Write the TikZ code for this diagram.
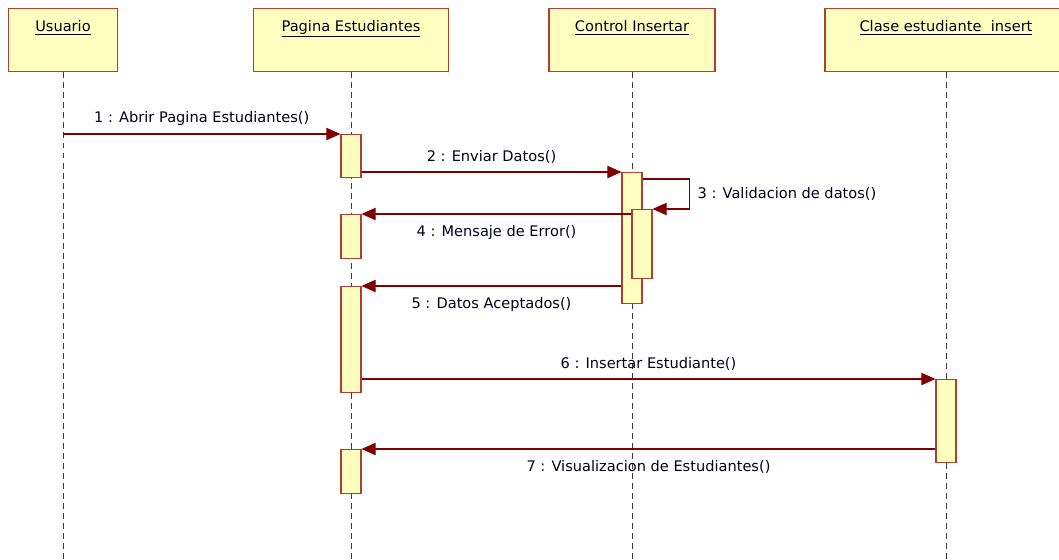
\documentclass[tikz,border=0pt]{standalone}
\usepackage{fontspec}
\setmainfont{DejaVu Sans}
\definecolor{boxyellow}{RGB}{255, 255, 192}
\definecolor{boxred}{RGB}{172, 64, 52}
\definecolor{msgred}{RGB}{128, 0, 0}
\definecolor{lifegray}{RGB}{60, 60, 60}
\usetikzlibrary{arrows.meta, calc}

\begin{document}
\begin{tikzpicture}[
  x=0.02cm, y=-0.02cm,
  every node/.style={font=\fontsize{8.3}{10}\selectfont, text=black!90!blue},
  objbox/.style={draw=boxred, fill=boxyellow, line width=0.8pt, minimum width=#1, inner sep=0pt, text height=0.45cm, text depth=0.81cm, anchor=north},
  bar/.style={draw=boxred, fill=boxyellow, line width=0.6pt, minimum width=0.4cm, minimum height=#1, inner sep=0pt, anchor=north},
  lifeline/.style={draw=lifegray, line width=0.5pt, dash pattern=on 3.4pt off 2.3pt},
  msg/.style={draw=msgred, line width=0.6pt, -{Triangle[length=8pt, width=7pt]}}
]
  \clip (0,0) rectangle (1059,559);

  % objetos
  \node[objbox=2.18cm] (usr) at (63,8) {\underline{Usuario}};
  \node[objbox=3.9cm] (pag) at (351,8) {\underline{Pagina Estudiantes}};
  \node[objbox=3.32cm] (ctl) at (632,8) {\underline{Control Insertar}};
  \node[objbox=4.84cm] (cls) at (946,8) {\underline{Clase estudiante\ \ insert}};

  \coordinate (bottom) at (0,559);
  \foreach \o in {usr, pag, ctl, cls}
    \draw[lifeline] (\o.south) -- (\o.south |- bottom);

  % activaciones
  \node[bar=0.86cm] (pg1) at (351,134) {};
  \node[bar=0.88cm] (pg2) at (351,214) {};
  \node[bar=2.12cm] (pg3) at (351,286) {};
  \node[bar=0.88cm] (pg4) at (351,449) {};
  \node[bar=2.62cm] (ci1) at (632,172) {};
  \node[bar=1.38cm] (ci2) at (642,209) {};
  \node[bar=1.66cm] (ce1) at (946,379) {};

  % mensajes
  \coordinate (m1) at (63,134);
  \draw[msg] (m1) -- (pg1.north west) node[midway, above=1pt] {1 : Abrir Pagina Estudiantes()};
  \draw[msg] (pg1.east |- ci1.north) -- (ci1.north west) node[midway, above=1pt] {2 : Enviar Datos()};
  \draw[msg] ($(ci1.north east)+(0,7)$) -- ++(47,0) |- (ci2.north east) node[pos=0.25, right=1pt] {3 : Validacion de datos()};
  \draw[msg] (ci2.west |- pg2.north) -- (pg2.north east) node[midway, below=3pt] {4 : Mensaje de Error()};
  \draw[msg] (ci1.west |- pg3.north) -- (pg3.north east) node[midway, below=3pt] {5 : Datos Aceptados()};
  \draw[msg] (pg3.east |- ce1.north) -- (ce1.north west) node[midway, above=1pt] {6 : Insertar Estudiante()};
  \draw[msg] (ce1.west |- pg4.north) -- (pg4.north east) node[midway, below=3pt] {7 : Visualizacion de Estudiantes()};
\end{tikzpicture}
\end{document}
